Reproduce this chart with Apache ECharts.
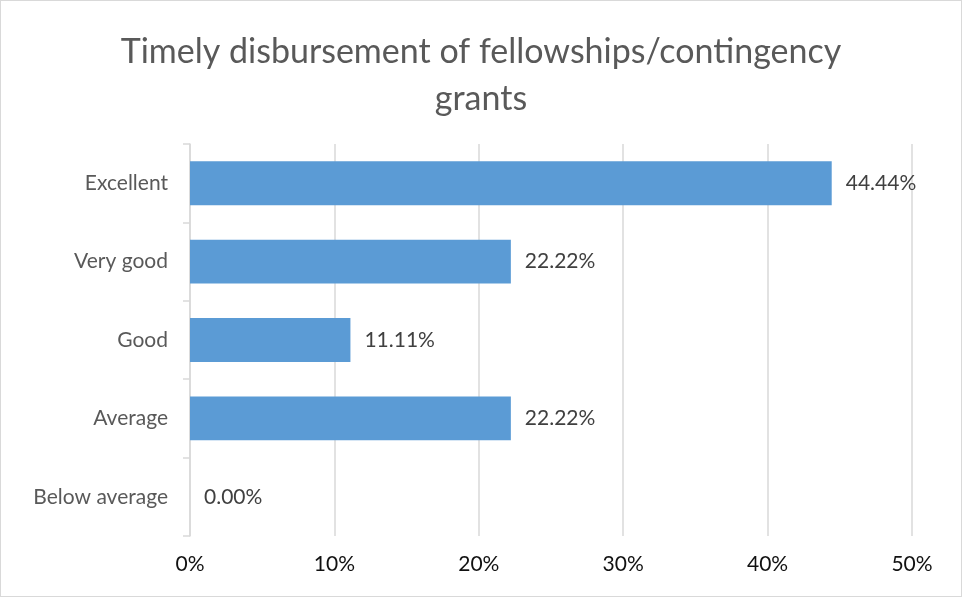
<!DOCTYPE html>
<html><head><meta charset="utf-8">
<script src="https://cdn.jsdelivr.net/npm/echarts@6/dist/echarts.min.js"></script>
<style>
html,body{margin:0;padding:0;background:#fff;}
#c{position:absolute;left:0;top:0;width:960px;height:595px;border:1px solid #d9d9d9;}
</style></head>
<body><div id="c"></div>
<script>
const categories = ["Below average", "Average", "Good", "Very good", "Excellent"];
const values = [0.00, 22.22, 11.11, 22.22, 44.44];
const xTicks = [0, 10, 20, 30, 40, 50];
const titleText = "Timely disbursement of fellowships/contingency\ngrants";

const chart = echarts.init(document.getElementById('c'));
const FONT = "Lato";
chart.setOption({
  animation: false,
  title: {
    text: titleText, left: 'center', top: 23,
    textStyle: {fontFamily: FONT, fontSize: 34, fontWeight: 'normal', color: '#595959', lineHeight: 47}
  },
  grid: {left: 189, right: 49, top: 143, bottom: 60},
  xAxis: {
    type: 'value', min: xTicks[0], max: xTicks[xTicks.length-1], interval: 10,
    axisLine: {show: false}, axisTick: {show: false},
    splitLine: {show: true, lineStyle: {color: '#d9d9d9', width: 1.5}},
    axisLabel: {formatter: v => v + '%', fontFamily: FONT, fontSize: 21, color: '#111', margin: 18}
  },
  yAxis: {
    type: 'category', data: categories,
    axisLine: {show: true, lineStyle: {color: '#d9d9d9', width: 1.5}},
    axisTick: {show: true, length: 7, lineStyle: {color: '#d9d9d9', width: 1.5}},
    axisLabel: {fontFamily: FONT, fontSize: 21, color: '#595959', margin: 22}
  },
  series: [{
    type: 'bar', data: values, barWidth: '56%',
    itemStyle: {color: '#5b9bd5'},
    label: {show: true, position: 'right', distance: 14, formatter: p => p.value.toFixed(2) + '%',
      fontFamily: FONT, fontSize: 21, color: '#404040'}
  }]
});
</script></body></html>
